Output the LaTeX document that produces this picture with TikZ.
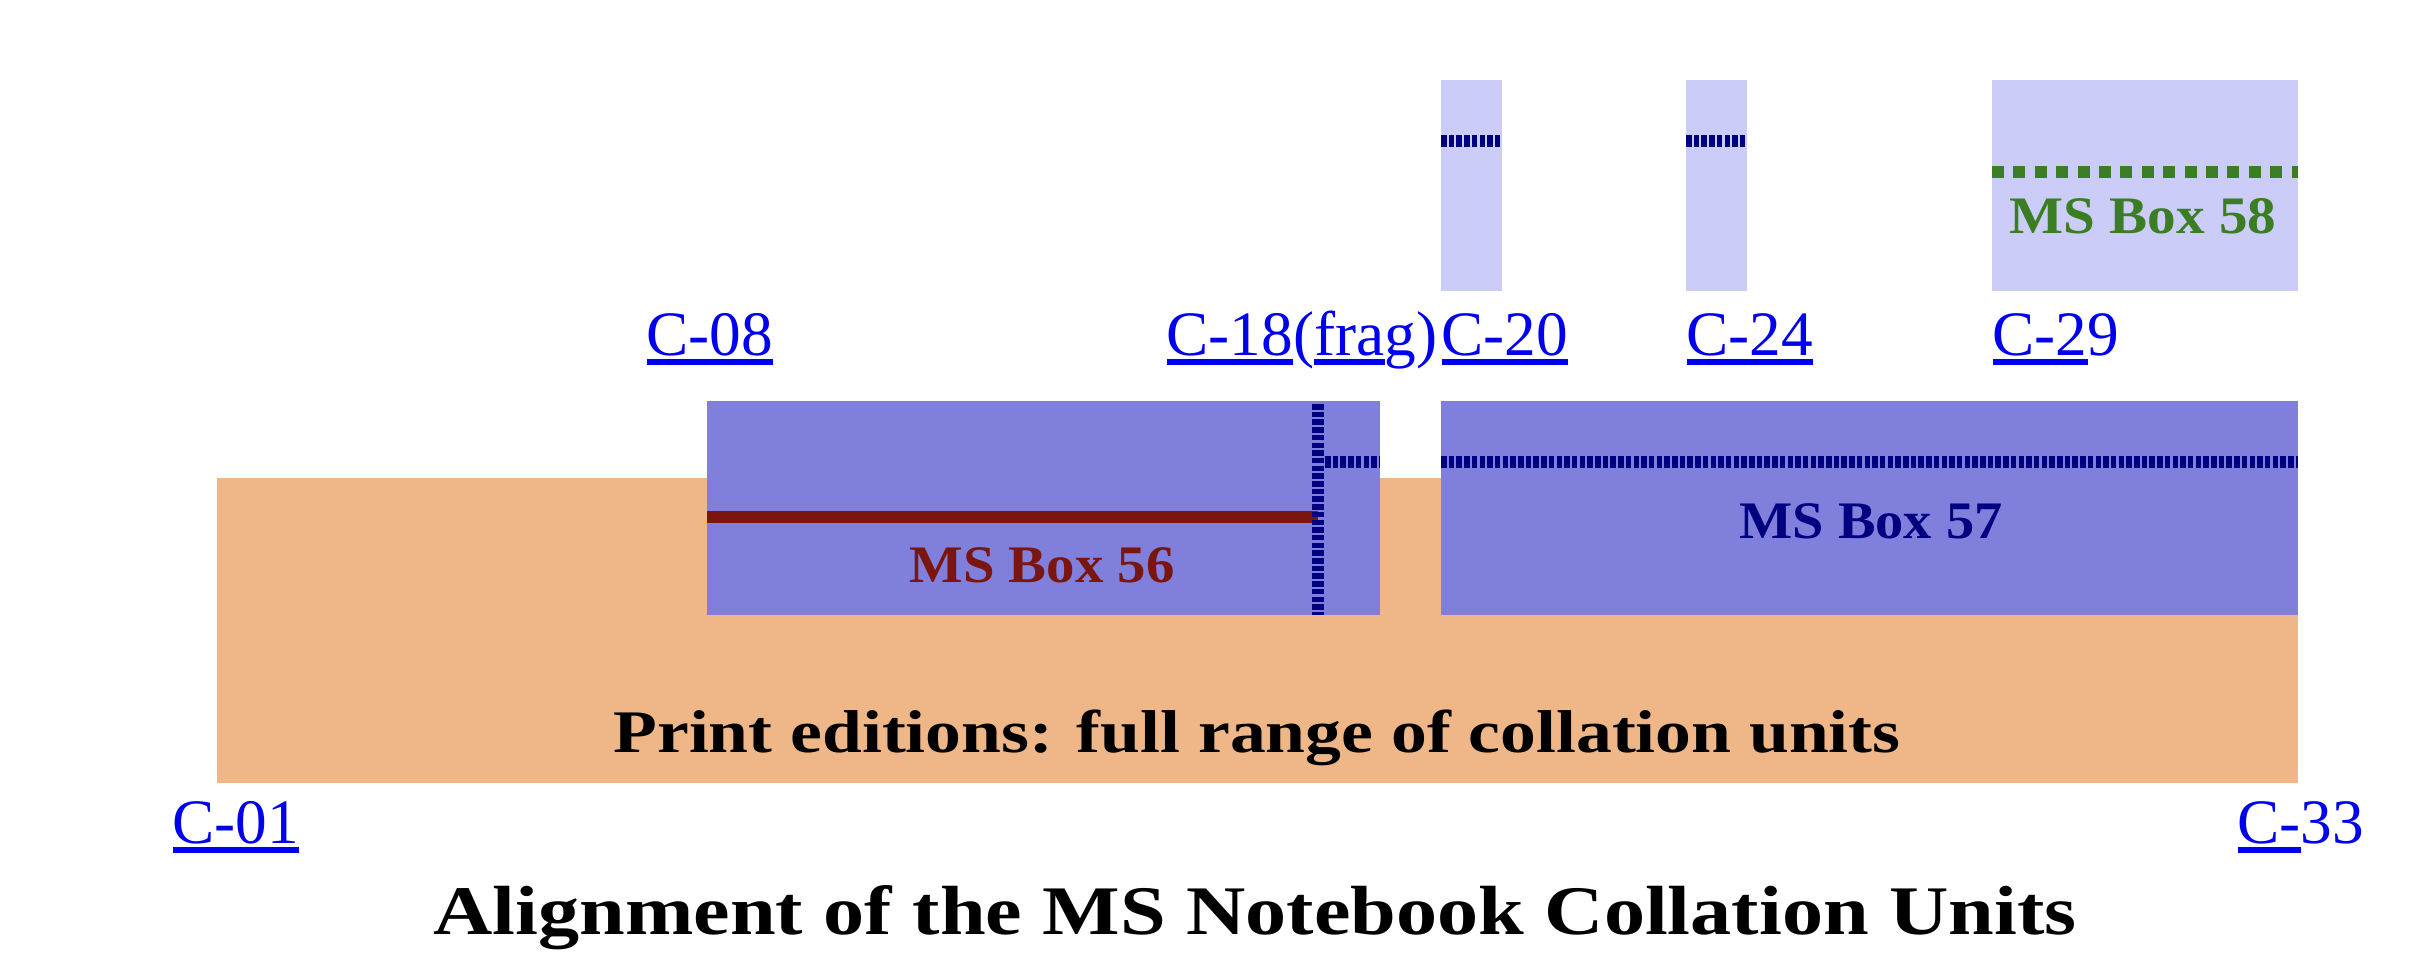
\documentclass[tikz,border=0pt]{standalone}
\usepackage{fontspec}
\setmainfont{Liberation Serif}
\usepackage{graphicx}
\definecolor{printc}{HTML}{EFB787}
\definecolor{msdark}{HTML}{807FDB}
\definecolor{mslight}{HTML}{CCCCF8}
\definecolor{navyc}{HTML}{000080}
\definecolor{redc}{HTML}{7A1510}
\definecolor{greenc}{HTML}{3A7D22}
\definecolor{linkc}{HTML}{0000EE}
\newcommand\lnk[1]{\setbox0\hbox{#1}\rlap{\rule[-0.95mm]{\wd0}{0.6mm}}\box0\relax}
\newcommand\fitw[2]{\resizebox{#1}{\height}{\bfseries #2}}
\tikzset{
  cref/.style={anchor=base west, inner sep=0pt, text=linkc, font=\fontsize{18pt}{20pt}\selectfont},
  boxlabel/.style={anchor=base, inner sep=0pt, font=\fontsize{15pt}{18pt}\selectfont},
  navydots/.style={draw=navyc, line width=1.2mm, dash pattern=on 0.55mm off 0.22mm},
}
\begin{document}
\begin{tikzpicture}[x=0.1mm,y=-0.1mm]
\useasboundingbox (0,0) rectangle (2430,966);
% print editions
\fill[printc] (217,478) rectangle (2298,783);
% MS boxes 56 / 57
\fill[msdark] (707,401) rectangle (1380,615);
\fill[msdark] (1441,401) rectangle (2298,615);
% light boxes
\fill[mslight] (1441,80) rectangle (1502,291);
\fill[mslight] (1686,80) rectangle (1747,291);
\fill[mslight] (1992,80) rectangle (2298,291);
% lines
\draw[redc, line width=1.2mm] (707,517) -- (1318,517);
\draw[navydots] (1318,404) -- (1318,615);
\draw[navydots] (1325,462) -- (1380,462);
\draw[navydots] (1441,462) -- (2298,462);
\draw[navydots] (1441,141) -- (1502,141);
\draw[navydots] (1686,141) -- (1747,141);
\draw[greenc, line width=1.2mm, dash pattern=on 1.2mm off 0.94mm] (1992,172) -- (2298,172);
% box labels
\node[boxlabel, text=redc] (ms56) at (1042,582) {\fitw{26.5mm}{MS Box 56}};
\node[boxlabel, text=navyc] (ms57) at (1871,538) {\fitw{26.3mm}{MS Box 57}};
\node[boxlabel, text=greenc] (ms58) at (2143,233) {\fitw{26.7mm}{MS Box 58}};
\node[anchor=base, inner sep=0pt, font=\fontsize{17.2pt}{20pt}\selectfont] (print) at (1257,752) {\fitw{128.7mm}{Print editions: full range of collation units}};
% collation unit links
\node[cref] (c08) at (646,355) {\lnk{C-08}};
\node[cref] (c18) at (1166,355) {\lnk{C-18}(\lnk{fra}g)};
\node[cref] (c20) at (1441,355) {\lnk{C-20}};
\node[cref] (c24) at (1686,355) {\lnk{C-24}};
\node[cref] (c29) at (1992,355) {\lnk{C-2}9};
\node[cref] (c01) at (172,843) {\lnk{C-01}};
\node[cref] (c33) at (2237,843) {\lnk{C-}33};
% title
\node[anchor=base, inner sep=0pt, font=\fontsize{19.8pt}{24pt}\selectfont] (title) at (1255,934) {\fitw{164.3mm}{Alignment of the MS Notebook Collation Units}};
\end{tikzpicture}
\end{document}
